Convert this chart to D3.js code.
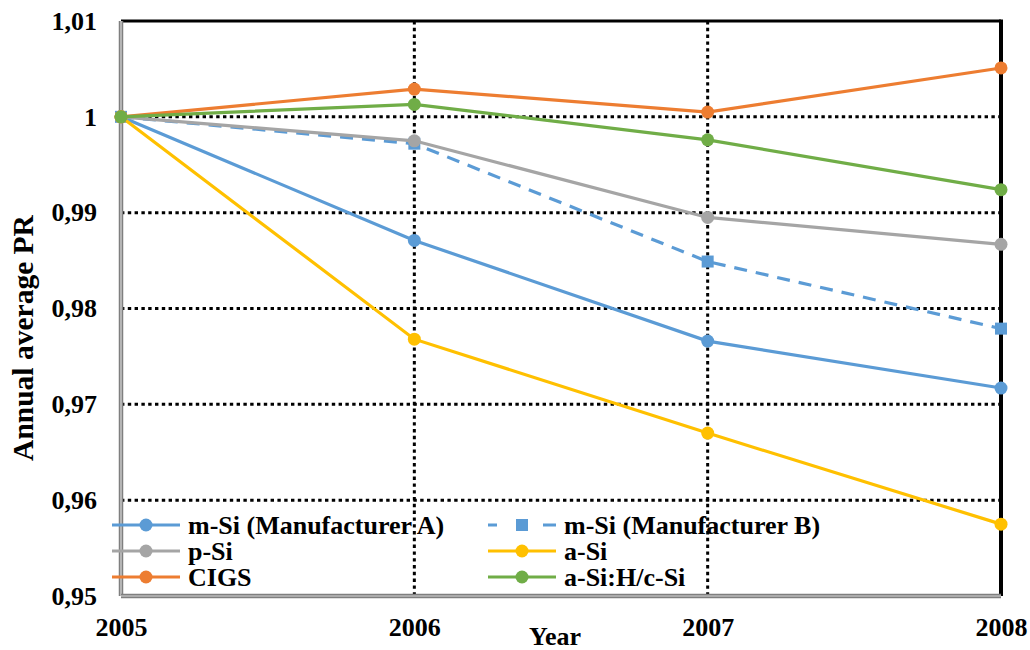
<!DOCTYPE html>
<html>
<head>
<meta charset="utf-8">
<script src="https://cdn.jsdelivr.net/npm/d3@7"></script>
<style>
body { margin: 0; background: #fff; }
text { font-family: "Liberation Serif", "Times New Roman", serif; font-weight: bold; }
</style>
</head>
<body>
<div class="chart"></div>
<script>
var years = [2005, 2006, 2007, 2008];
var yTicks = [0.95, 0.96, 0.97, 0.98, 0.99, 1, 1.01];
var yTickLabels = ["0,95", "0,96", "0,97", "0,98", "0,99", "1", "1,01"];

var mSiA = [1.0, 0.9871, 0.9766, 0.9717];
var mSiB = [1.0, 0.9972, 0.9849, 0.9779];
var pSi = [1.0, 0.9975, 0.9895, 0.9867];
var aSi = [1.0, 0.9768, 0.9670, 0.9575];
var cigs = [1.0, 1.0029, 1.0005, 1.0051];
var aSiHcSi = [1.0, 1.0013, 0.9976, 0.9924];

var seriesNames = ["m-Si (Manufacturer A)", "m-Si (Manufacturer B)", "p-Si", "a-Si", "CIGS", "a-Si:H/c-Si"];
var seriesColors = ["#5B9BD5", "#5B9BD5", "#A5A5A5", "#FFC000", "#ED7D31", "#70AD47"];

var series = [
  {name: seriesNames[0], values: mSiA, color: seriesColors[0], dashed: false, square: false},
  {name: seriesNames[1], values: mSiB, color: seriesColors[1], dashed: true, square: true},
  {name: seriesNames[2], values: pSi, color: seriesColors[2], dashed: false, square: false},
  {name: seriesNames[3], values: aSi, color: seriesColors[3], dashed: false, square: false},
  {name: seriesNames[4], values: cigs, color: seriesColors[4], dashed: false, square: false},
  {name: seriesNames[5], values: aSiHcSi, color: seriesColors[5], dashed: false, square: false}
];

var margin = {top: 21, right: 29, bottom: 54, left: 121},
    width = 1030 - margin.left - margin.right,
    height = 650 - margin.top - margin.bottom;

var svg = d3.select(".chart").append("svg")
  .attr("width", 1030).attr("height", 650);
var g = svg.append("g").attr("transform", "translate(" + margin.left + "," + margin.top + ")");

var x = d3.scaleLinear().domain([2005, 2008]).range([0, width]);
var y = d3.scaleLinear().domain([0.95, 1.01]).range([height, 0]);

// dotted grid
g.selectAll(".hgrid").data(yTicks.slice(1, -1)).enter().append("line")
  .attr("x1", 0).attr("x2", width)
  .attr("y1", function(d) { return y(d); }).attr("y2", function(d) { return y(d); })
  .style("stroke", "#000").style("stroke-width", 3).style("stroke-dasharray", "3.4,3.4");
g.selectAll(".vgrid").data(years.slice(1, -1)).enter().append("line")
  .attr("y1", 0).attr("y2", height)
  .attr("x1", function(d) { return x(d); }).attr("x2", function(d) { return x(d); })
  .style("stroke", "#000").style("stroke-width", 3).style("stroke-dasharray", "3.4,3.4");

// frame
g.append("line").attr("x1", 0).attr("x2", width).attr("y1", 0).attr("y2", 0)
  .style("stroke", "#000").style("stroke-width", 3);
g.append("line").attr("x1", width).attr("x2", width).attr("y1", -1.5).attr("y2", height)
  .style("stroke", "#000").style("stroke-width", 4);
// gray double axes
[["x", 0, 0, 0, height], ["y", 0, width, height, height]].forEach(function(a) {
  g.append("line").attr("x1", a[1]).attr("x2", a[2]).attr("y1", a[3]).attr("y2", a[4])
    .style("stroke", "#7f7f7f").style("stroke-width", 4.5);
  g.append("line").attr("x1", a[1]).attr("x2", a[2]).attr("y1", a[3]).attr("y2", a[4])
    .style("stroke", "#d9d9d9").style("stroke-width", 1.2);
});

// axes labels via d3 axes
var yAxis = d3.axisLeft(y).tickValues(yTicks)
  .tickFormat(function(d, i) { return yTickLabels[i]; }).tickSize(0).tickPadding(24);
var ya = g.append("g").call(yAxis);
ya.select(".domain").remove();
ya.selectAll("text").style("font-size", "26px").style("fill", "#000")
  .style("font-family", "Liberation Serif").style("font-weight", "bold");

var xAxis = d3.axisBottom(x).tickValues(years).tickFormat(d3.format("d")).tickSize(0).tickPadding(22);
var xa = g.append("g").attr("transform", "translate(0," + height + ")").call(xAxis);
xa.select(".domain").remove();
xa.selectAll("text").style("font-size", "26px").style("fill", "#000")
  .style("font-family", "Liberation Serif").style("font-weight", "bold");

svg.append("text").attr("x", 555).attr("y", 645).attr("text-anchor", "middle")
  .style("font-size", "26px").text("Year");
svg.append("text").attr("transform", "translate(33,338) rotate(-90)").attr("text-anchor", "middle")
  .style("font-size", "29.5px").text("Annual average PR");

// series
var line = d3.line().x(function(d, i) { return x(years[i]); }).y(function(d) { return y(d); });

function marker(sel, s, cx, cy) {
  if (s.square) {
    sel.append("rect").attr("x", cx - 6).attr("y", cy - 6).attr("width", 12).attr("height", 12)
      .style("fill", s.color);
  } else {
    sel.append("circle").attr("cx", cx).attr("cy", cy).attr("r", 6.5).style("fill", s.color);
  }
}

series.forEach(function(s) {
  var sg = g.append("g");
  sg.append("path").datum(s.values).attr("d", line)
    .style("fill", "none").style("stroke", s.color).style("stroke-width", 3.2)
    .style("stroke-dasharray", s.dashed ? "13,9" : null);
  s.values.forEach(function(v, i) { marker(sg, s, x(years[i]), y(v)); });
});

// legend
var legCols = [112, 488], legRows = [525, 551, 577];
series.forEach(function(s, i) {
  var lx = legCols[i % 2], ly = legRows[Math.floor(i / 2)];
  var lg = svg.append("g");
  lg.append("line").attr("x1", lx).attr("x2", lx + 68).attr("y1", ly).attr("y2", ly)
    .style("stroke", s.color).style("stroke-width", 3.2)
    .style("stroke-dasharray", s.dashed ? "9,46,13" : null);
  marker(lg, s, lx + 34, ly);
  lg.append("text").attr("x", lx + 76).attr("y", ly + 9).style("font-size", "26px").text(s.name);
});
</script>
</body>
</html>
